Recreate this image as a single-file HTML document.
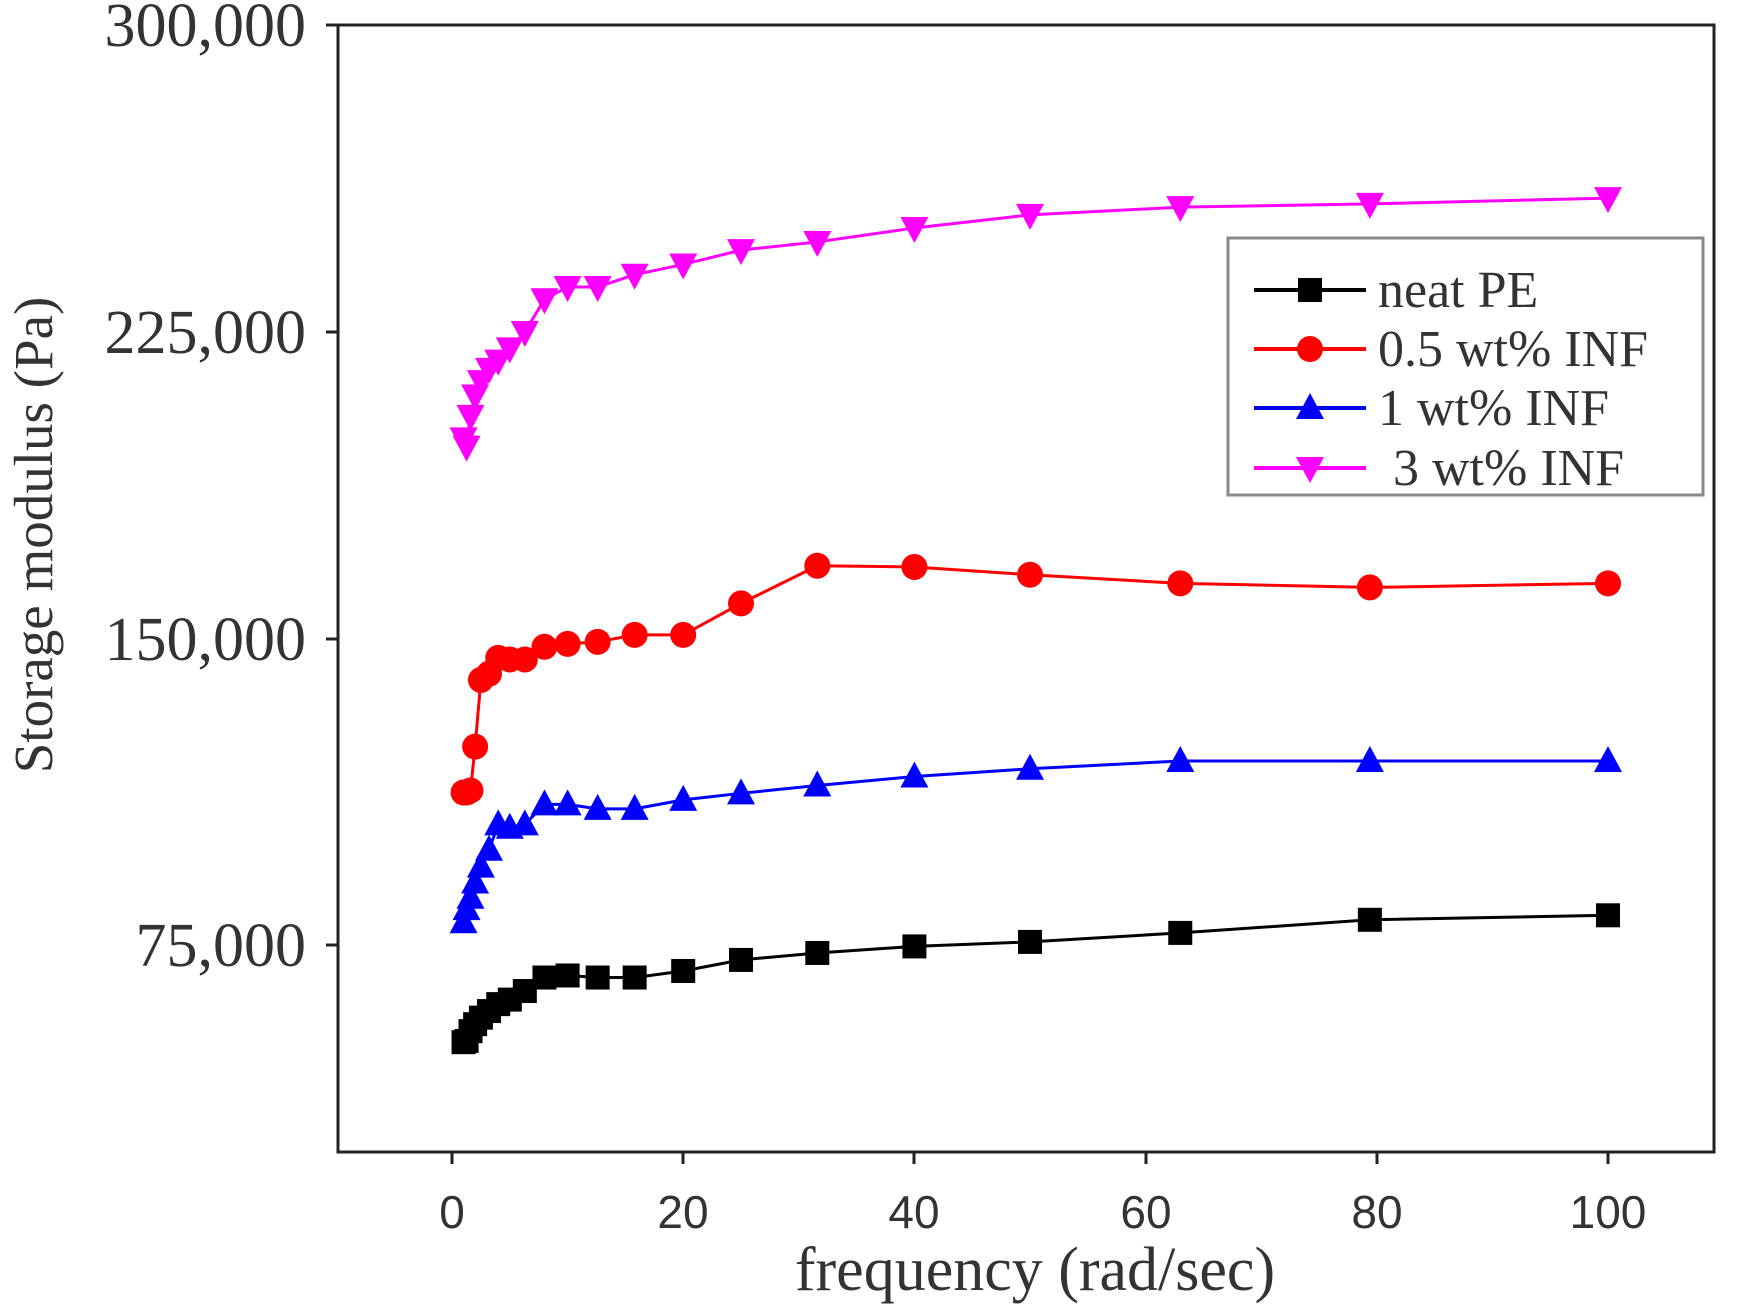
<!DOCTYPE html>
<html><head><meta charset="utf-8"><style>
html,body{margin:0;padding:0;background:#fff;}
svg{display:block;}
</style></head><body>
<svg id="s" width="1747" height="1311" viewBox="0 0 1747 1311" xmlns="http://www.w3.org/2000/svg">
<rect width="1747" height="1311" fill="#fff"/>
<g id="plot"></g>
<rect x="338" y="25" width="1376" height="1127" fill="none" stroke="#222" stroke-width="3"/>
<g font-family="Liberation Serif, serif" font-size="62" fill="#333" text-anchor="end" textLength="210">
<text x="306" y="46">300,000</text>
<text x="306" y="353">225,000</text>
<text x="306" y="660">150,000</text>
<text x="306" y="966">75,000</text>
</g>
<g stroke="#222" stroke-width="3">
<line x1="326" y1="25" x2="338" y2="25"/><line x1="326" y1="332" x2="338" y2="332"/>
<line x1="326" y1="639" x2="338" y2="639"/><line x1="326" y1="945" x2="338" y2="945"/>
<line x1="452" y1="1152" x2="452" y2="1164"/><line x1="683" y1="1152" x2="683" y2="1164"/>
<line x1="914" y1="1152" x2="914" y2="1164"/><line x1="1146" y1="1152" x2="1146" y2="1164"/>
<line x1="1377" y1="1152" x2="1377" y2="1164"/><line x1="1608" y1="1152" x2="1608" y2="1164"/>
</g>
<g font-family="Liberation Sans, sans-serif" font-size="46" fill="#333" text-anchor="middle">
<text x="452" y="1228">0</text><text x="683" y="1228">20</text><text x="914" y="1228">40</text>
<text x="1146" y="1228">60</text><text x="1377" y="1228">80</text><text x="1608" y="1228">100</text>
</g>
<text x="1035" y="1290" font-family="Liberation Serif, serif" font-size="62" fill="#333" text-anchor="middle">frequency (rad/sec)</text>
<text transform="translate(52,535) rotate(-90)" font-family="Liberation Serif, serif" font-size="55" fill="#333" text-anchor="middle">Storage modulus (Pa)</text>
<rect x="1228" y="238" width="475" height="257" fill="#fff" stroke="#888" stroke-width="3"/>
<g id="leg"></g>
<g font-family="Liberation Serif, serif" font-size="52" fill="#333">
<text x="1378" y="307">neat PE</text>
<text x="1378" y="366">0.5 wt% INF</text>
<text x="1378" y="425">1 wt%  INF</text>
<text x="1393" y="485">3 wt% INF</text>
</g>
</svg>
<script>
var X=function(v){return 452+v*11.56},Y=function(v){return 25+(300000-v)/75000*307};
var xs=[1,1.26,1.6,2,2.5,3.2,4,5,6.3,8,10,12.6,15.8,20,25,31.6,40,50,63,79.4,100];
var S=[
{c:"#000",m:"sq",d:[51500,51800,54200,55900,57500,59100,60800,61900,64000,67300,67800,67300,67300,68900,71600,73300,74900,76000,78200,81400,82500]},
{c:"#f00",m:"ci",d:[112500,112500,113000,123700,140000,141500,145400,145000,145000,148100,148800,149300,151000,151000,158700,167900,167600,165700,163600,162600,163600]},
{c:"#00f",m:"up",d:[80800,84000,86800,90500,94400,98500,104700,103900,104700,109600,109600,108500,108500,110700,112300,114200,116400,118300,120200,120200,120200]},
{c:"#f0f",m:"dn",d:[199000,197000,204500,209500,213000,216000,218000,221000,225000,233000,236000,236000,239000,241500,245000,247000,250400,253600,255500,256300,257700]}];
function mk(t,x,y,c){var r=12;
if(t=="sq")return '<rect x="'+(x-r)+'" y="'+(y-r)+'" width="'+2*r+'" height="'+2*r+'" fill="'+c+'"/>';
if(t=="ci")return '<circle cx="'+x+'" cy="'+y+'" r="'+(r+1)+'" fill="'+c+'"/>';
if(t=="up")return '<polygon points="'+x+','+(y-r-3)+' '+(x+r+2)+','+(y+r-1)+' '+(x-r-2)+','+(y+r-1)+'" fill="'+c+'"/>';
return '<polygon points="'+x+','+(y+r+3)+' '+(x+r+2)+','+(y-r+1)+' '+(x-r-2)+','+(y-r+1)+'" fill="'+c+'"/>';}
var h="";S.forEach(function(s){var p=xs.map(function(x,i){return X(x)+","+Y(s.d[i])}).join(" ");
h+='<polyline points="'+p+'" fill="none" stroke="'+s.c+'" stroke-width="3"/>';
xs.forEach(function(x,i){h+=mk(s.m,X(x),Y(s.d[i]),s.c)});});
document.getElementById("plot").innerHTML=h;
var l="",ly=[290,349,408,468];S.forEach(function(s,i){l+='<line x1="1254" x2="1366" y1="'+ly[i]+'" y2="'+ly[i]+'" stroke="'+s.c+'" stroke-width="4"/>'+mk(s.m,1310,ly[i],s.c)});
document.getElementById("leg").innerHTML=l;
</script>
</body></html>
